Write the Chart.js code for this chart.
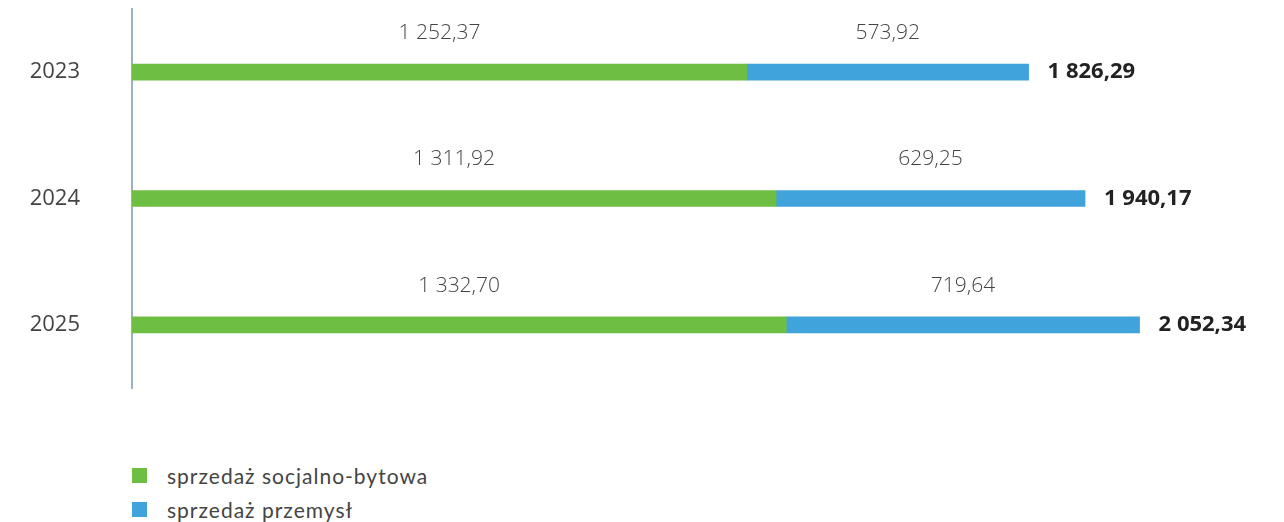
<!DOCTYPE html>
<html>
<head>
<meta charset="utf-8">
<script src="https://cdn.jsdelivr.net/npm/chart.js@4"></script>
<style>
  body { margin: 0; background: #fff; }
  #wrap { position: relative; width: 1284px; height: 522px; }
  #myChart { position: absolute; left: 0; top: 0; }
  #legend { position: absolute; left: 132px; top: 458px; font-family: Lato, sans-serif; font-size: 21px; letter-spacing: 1px; color: #444; }
  #legend .row { display: flex; align-items: center; height: 34px; }
  #legend .sw { display: inline-block; width: 15px; height: 15px; margin-right: 20px; }
</style>
</head>
<body>
<div id="wrap">
  <canvas id="myChart" width="1284" height="400"></canvas>
  <div id="legend"></div>
</div>
<script>
var years = ['2023', '2024', '2025'];
var socjalne = [1252.37, 1311.92, 1332.70];
var przemysl = [573.92, 629.25, 719.64];
var totals = [1826.29, 1940.17, 2052.34];

var green = '#6ebe44';
var blue = '#41a3dc';

// 1252.37 -> "1 252,37"
function fmt(v) {
  var parts = v.toFixed(2).split('.');
  return parts[0].replace(/\B(?=(\d{3})+(?!\d))/g, ' ') + ',' + parts[1];
}

// segment values above the bars, bold total at the end
var barLabels = {
  id: 'barLabels',
  afterDatasetsDraw: function(chart) {
    var ctx = chart.ctx;
    ctx.save();
    ctx.textBaseline = 'middle';
    chart.data.datasets.forEach(function(ds, i) {
      chart.getDatasetMeta(i).data.forEach(function(bar, j) {
        ctx.font = '300 21px "Open Sans", sans-serif';
        ctx.fillStyle = '#444';
        ctx.textAlign = 'center';
        ctx.fillText(fmt(ds.data[j]), (bar.x + bar.base) / 2, bar.y - 39);
      });
    });
    var last = chart.getDatasetMeta(chart.data.datasets.length - 1);
    last.data.forEach(function(bar, j) {
      ctx.font = 'bold 22px "Open Sans", sans-serif';
      ctx.fillStyle = '#222';
      ctx.textAlign = 'left';
      ctx.fillText(fmt(totals[j]), bar.x + 19, bar.y);
    });
    ctx.restore();
  }
};

var ctx = document.getElementById('myChart').getContext('2d');
var chart = new Chart(ctx, {
  type: 'bar',
  data: {
    labels: years,
    datasets: [{
      label: 'sprzedaż socjalno-bytowa',
      backgroundColor: green,
      data: socjalne,
      barThickness: 16
    }, {
      label: 'sprzedaż przemysł',
      backgroundColor: blue,
      data: przemysl,
      barThickness: 16
    }]
  },
  options: {
    indexAxis: 'y',
    responsive: false,
    animation: false,
    layout: { padding: { top: 9, right: 13, bottom: 12, left: 0 } },
    plugins: {
      legend: { display: false },
      tooltip: { enabled: false }
    },
    scales: {
      x: {
        stacked: true,
        display: false,
        min: 0,
        max: 2320
      },
      y: {
        stacked: true,
        afterFit: function(scale) {
          // fixed axis width; tick padding shouldn't shrink the plot vertically
          scale.width = 132;
          scale.paddingTop = 0;
          scale.paddingBottom = 0;
        },
        grid: { display: false, drawTicks: false },
        border: { display: true, color: '#9db0c2', width: 2 },
        ticks: {
          padding: 52,
          color: '#444',
          font: { family: '"Open Sans", sans-serif', size: 22 }
        }
      }
    }
  },
  plugins: [barLabels]
});

// legend list under the chart
var legend = document.getElementById('legend');
chart.data.datasets.forEach(function(ds) {
  var row = document.createElement('div');
  row.className = 'row';
  var sw = document.createElement('span');
  sw.className = 'sw';
  sw.style.background = ds.backgroundColor;
  var txt = document.createElement('span');
  txt.textContent = ds.label;
  row.appendChild(sw);
  row.appendChild(txt);
  legend.appendChild(row);
});
</script>
</body>
</html>
